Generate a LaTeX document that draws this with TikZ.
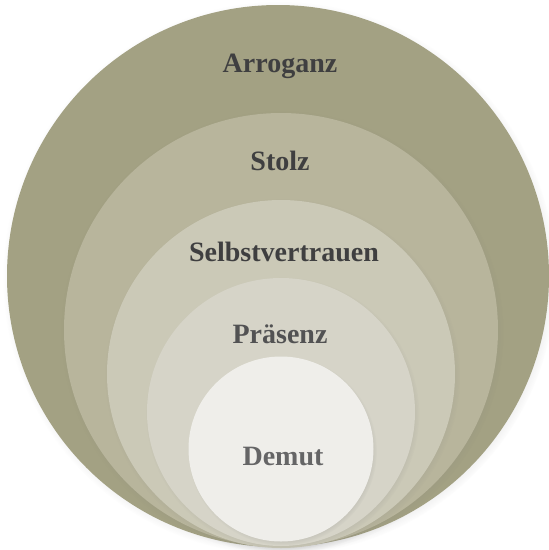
\documentclass[tikz,border=0pt]{standalone}
\usepackage{fontspec}
\setmainfont{Liberation Serif}
\usetikzlibrary{shadows,fadings}
\definecolor{RingOne}{HTML}{A3A183}
\definecolor{RingTwo}{HTML}{B8B59C}
\definecolor{RingThree}{HTML}{CBC9B7}
\definecolor{RingFour}{HTML}{D6D4C8}
\definecolor{RingFive}{HTML}{EFEEEA}
\definecolor{LabelGrey}{HTML}{3F3F40}

\begin{document}
\begin{tikzpicture}[
x=1pt,y=-1pt,
ring/.style={
  circle,
  draw=none,
  inner sep=0pt,
  circular drop shadow={shadow scale=1.02, shadow xshift=1.5pt, shadow yshift=-2pt, opacity=.45}
},
label/.style={
  text=LabelGrey,
  font=\fontsize{28}{32}\selectfont\bfseries,
  inner sep=0pt
}
]
\useasboundingbox (0,0) rectangle (549,550);
% rings from outside in
\node[ring,fill=RingOne,minimum size=542pt] (arroganz) at (278,276) {};
\node[ring,fill=RingTwo,minimum size=434pt] (stolz) at (281,330) {};
\node[ring,fill=RingThree,minimum size=348pt] (selbst) at (281,374) {};
\node[ring,fill=RingFour,minimum size=268pt] (praesenz) at (281,412) {};
\node[ring,fill=RingFive,minimum size=185pt] (demut) at (281,449) {};
% labels
\node[label] (t1) at (280,66) {Arroganz};
\node[label] (t2) at (280,161) {Stolz};
\node[label] (t3) at (284,252) {Selbstvertrauen};
\node[label,text=LabelGrey!90] (t4) at (280,334) {Präsenz};
\node[label,text=LabelGrey!80] (t5) at (283,456) {Demut};
\end{tikzpicture}
\end{document}
